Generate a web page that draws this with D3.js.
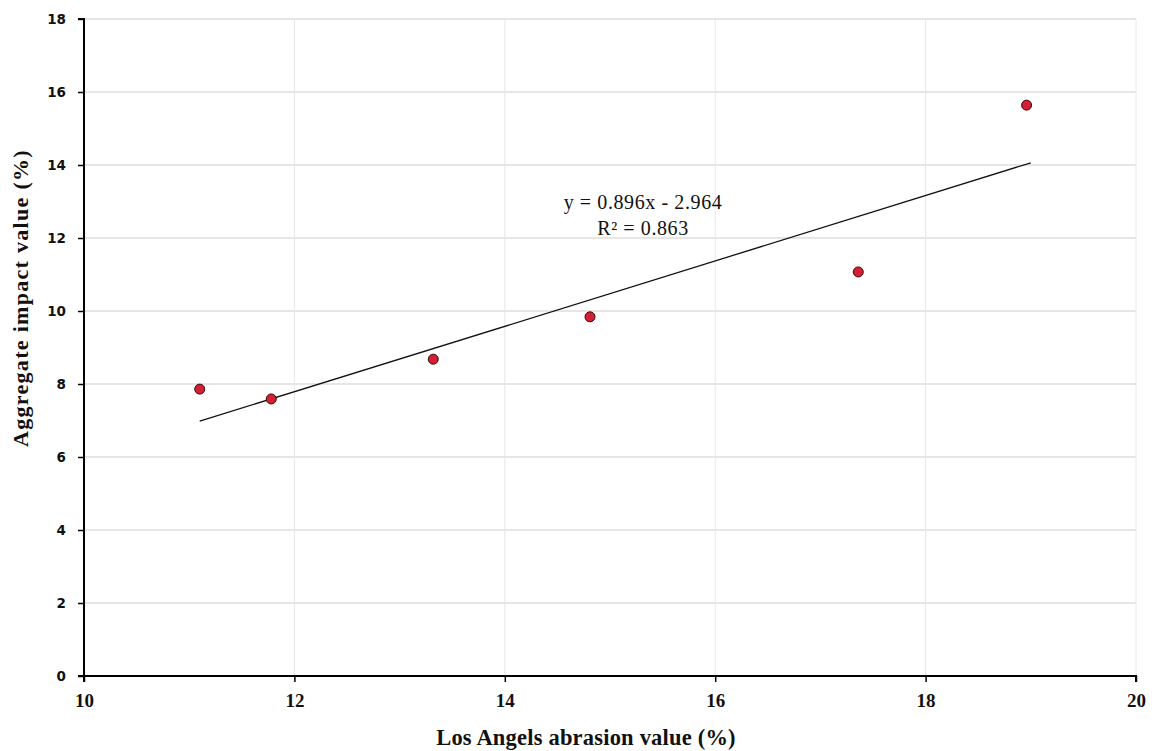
<!DOCTYPE html>
<html><head><meta charset="utf-8">
<script src="https://cdn.jsdelivr.net/npm/d3@7"></script>
<style>body{margin:0;background:#fff}</style>
</head><body>
<svg id="c" width="1154" height="751"></svg>
<script>
const xVals = [11.10, 11.78, 13.32, 14.81, 17.36, 18.96];
const yVals = [7.86, 7.59, 8.68, 9.84, 11.07, 15.64];
const xTicks = [10, 12, 14, 16, 18, 20];
const yTicks = [0, 2, 4, 6, 8, 10, 12, 14, 16, 18];
const slope = 0.896, intercept = -2.964;
const trendX = [11.1, 19.0];
const eqLines = ["y = 0.896x - 2.964", "R² = 0.863"];

const svg = d3.select("#c");
const m = {l:84, r:1154-1136, t:19, b:751-676};
const W = 1154, H = 751;
const x = d3.scaleLinear().domain([10,20]).range([m.l, W-m.r]);
const y = d3.scaleLinear().domain([0,18]).range([H-m.b, m.t]);
const serif = "'Liberation Serif','Times New Roman',serif";
const sans = "'DejaVu Sans',Verdana,sans-serif";

// grid
svg.append("g").selectAll("line").data(yTicks.filter(d=>d>0)).join("line")
  .attr("x1", x(10)).attr("x2", x(20)).attr("y1", d=>y(d)).attr("y2", d=>y(d))
  .attr("stroke", "#e2dcdc").attr("stroke-width", 1.5);
svg.append("g").selectAll("line").data(xTicks.filter(d=>d>10)).join("line")
  .attr("x1", d=>x(d)).attr("x2", d=>x(d)).attr("y1", y(0)).attr("y2", y(18))
  .attr("stroke", "#ebe6e6").attr("stroke-width", 1);

// axes
const xa = svg.append("g").attr("transform", `translate(0,${y(0)})`)
  .call(d3.axisBottom(x).tickValues(xTicks).tickSize(6).tickPadding(12).tickFormat(d3.format("d")));
const ya = svg.append("g").attr("transform", `translate(${x(10)},0)`)
  .call(d3.axisLeft(y).tickValues(yTicks).tickSize(6).tickPadding(12).tickFormat(d3.format("d")));
[xa, ya].forEach(a => {
  a.select(".domain").attr("stroke", "#000").attr("stroke-width", 2);
  a.selectAll(".tick line").attr("stroke", "#000").attr("stroke-width", 1.5);
  a.selectAll("text").attr("font-weight", "bold").attr("fill", "#111");
});
xa.selectAll("text").attr("font-family", serif).attr("font-size", 19);
ya.selectAll("text").attr("font-family", sans).attr("font-size", 13.5);
xa.select(".domain").attr("d", `M${x(10)},6V0H${x(20)}V6`);
ya.select(".domain").attr("d", `M-6,${y(18)}H0V${y(0)}H-6`);

// trend line
svg.append("line")
  .attr("x1", x(trendX[0])).attr("y1", y(slope*trendX[0]+intercept))
  .attr("x2", x(trendX[1])).attr("y2", y(slope*trendX[1]+intercept))
  .attr("stroke", "#111").attr("stroke-width", 1.3);

// points
svg.append("g").selectAll("circle").data(xVals.map((v,i)=>[v,yVals[i]])).join("circle")
  .attr("cx", d=>x(d[0])).attr("cy", d=>y(d[1])).attr("r", 5)
  .attr("fill", "#d41f35").attr("stroke", "#3a0a0a").attr("stroke-width", 1);

// equation
svg.append("g").selectAll("text").data(eqLines).join("text")
  .attr("x", 643).attr("y", (d,i)=>209 + i*26).attr("text-anchor", "middle")
  .attr("font-family", serif).attr("font-size", 20).attr("letter-spacing", 0.6)
  .attr("fill", "#111").text(d=>d);

// axis titles
svg.append("text").attr("x", 586).attr("y", 745).attr("text-anchor", "middle")
  .attr("font-family", serif).attr("font-weight", "bold").attr("font-size", 22.5).attr("letter-spacing", 0.2).attr("fill", "#111")
  .text("Los Angels abrasion value (%)");
svg.append("text").attr("transform", `translate(28,298) rotate(-90)`).attr("text-anchor", "middle")
  .attr("font-family", serif).attr("font-weight", "bold").attr("font-size", 22).attr("letter-spacing", 1.3).attr("fill", "#111")
  .text("Aggregate  impact  value (%)");
</script>
</body></html>
